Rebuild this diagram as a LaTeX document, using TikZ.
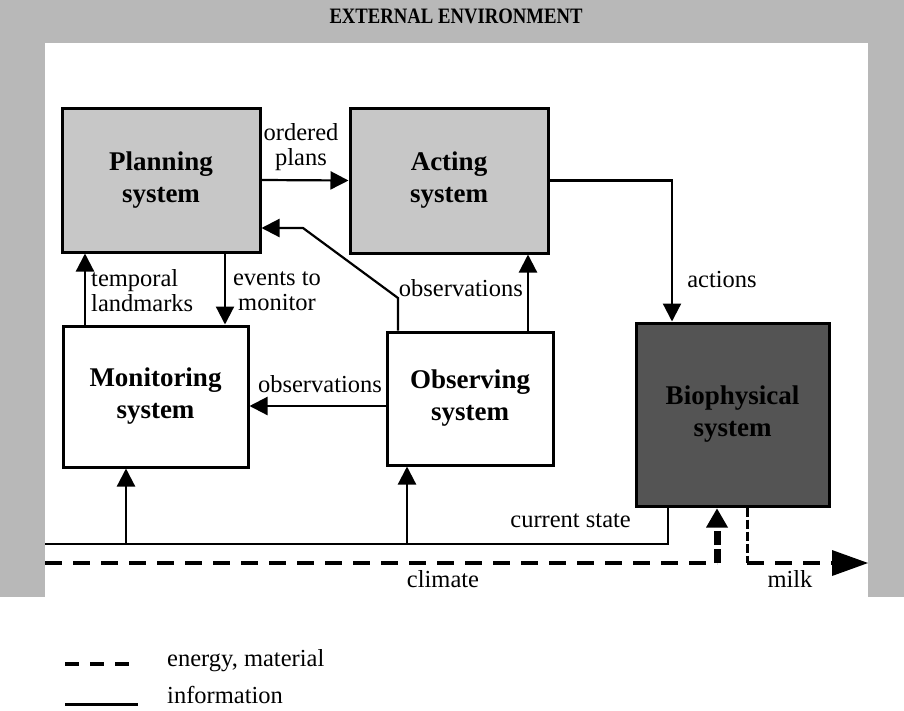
\documentclass[tikz,border=0pt]{standalone}
\usepackage{fontspec}
\setmainfont{Liberation Serif}
\usetikzlibrary{arrows.meta}
\definecolor{envgray}{gray}{0.72}
\definecolor{lightfill}{gray}{0.78}
\definecolor{darkfill}{gray}{0.33}
\begin{document}
\begin{tikzpicture}[x=1pt,y=-1pt,
  box/.style={draw=black, line width=3pt, align=center, inner sep=0pt,
    font=\fontsize{27}{32}\selectfont\bfseries},
  lbl/.style={font=\fontsize{24.5}{25}\selectfont, inner sep=0pt},
  info/.style={line width=2.2pt, -{Triangle[length=18pt,width=18pt]}},
  infoline/.style={line width=2.2pt},
  matter/.style={line width=4pt, line cap=butt, dash pattern=on 17pt off 11pt},
]
\useasboundingbox (0,0) rectangle (904,710);

% surrounding environment band
\fill[envgray] (0,0) rectangle (904,597);
\fill[white] (45,43) rectangle (868,597);
\node[font=\fontsize{22}{24}\selectfont\bfseries, inner sep=0pt, xscale=0.85] (envtitle) at (456,16) {EXTERNAL ENVIRONMENT};

% the five subsystems
\node[box, fill=lightfill, minimum width=198pt, minimum height=144pt] (plan) at (161,180) {Planning\\system};
\node[box, fill=lightfill, minimum width=198pt, minimum height=145pt] (act) at (449,180.5) {Acting\\system};
\node[box, fill=white, minimum width=185pt, minimum height=141pt] (mon) at (155.5,396.5) {Monitoring\\system};
\node[box, fill=white, minimum width=166pt, minimum height=133pt] (obs) at (470,398.5) {Observing\\system};
\node[box, fill=darkfill, minimum width=193pt, minimum height=183pt] (bio) at (732.5,414.5) {Biophysical\\system};

% helper coordinates for connector routing
\coordinate (xa) at (528,0);
\coordinate (k1) at (398,298);
\coordinate (k2) at (303,228);
\coordinate (xt) at (85,0);
\coordinate (xe) at (225,0);
\coordinate (yo) at (0,406);
\coordinate (xc) at (672,0);
\coordinate (xs) at (668,0);
\coordinate (cs) at (668,544);
\coordinate (infoleft) at (45,544);
\coordinate (xm) at (126,0);
\coordinate (xo) at (407,0);
\coordinate (climleft) at (45,563);
\coordinate (climturn) at (717,563);
\coordinate (milkturn) at (747,563);
\coordinate (milkend) at (868,563);

% information flows
\draw[info] (plan.east) -- (act.west);
\draw[info] (act.east) -| (bio.north -| xc);
\draw[info] (obs.north -| xa) -- (act.south -| xa);
\draw[info] (obs.north -| k1) -- (k1) -- (k2) -- (plan.east |- k2);
\draw[info] (mon.north -| xt) -- (plan.south -| xt);
\draw[info] (plan.south -| xe) -- (mon.north -| xe);
\draw[info] (obs.west |- yo) -- (mon.east |- yo);
\draw[infoline] (bio.south -| xs) -- (cs) -- (infoleft);
\draw[info] (infoleft -| xm) -- (mon.south -| xm);
\draw[info] (infoleft -| xo) -- (obs.south -| xo);

% energy and material flows
\draw[matter] (climleft) -- (climturn);
\draw[line width=7pt, line cap=butt, dash pattern=on 14pt off 4pt] (climturn) -- ([yshift=-16pt]bio.south -| climturn);
\fill ([yshift=-1pt]bio.south -| climturn) -- ++(-11,19) -- ++(22,0) -- cycle;
\draw[line width=3pt, line cap=butt, dash pattern=on 9pt off 3pt] (bio.south -| milkturn) -- (milkturn);
\draw[matter] (milkturn) -- ([xshift=-34pt]milkend);
\fill (milkend) -- ++(-36,-13) -- ++(0,26) -- cycle;

% flow labels
\node[lbl, align=center] (lordered) at (301,147) {ordered\\plans};
\node[lbl, align=left, anchor=west] (ltemporal) at (91,291) {temporal\\landmarks};
\node[lbl, align=center] (levents) at (277,291) {events to\\monitor};
\node[lbl, anchor=east] (lobsup) at (523,288) {observations};
\node[lbl] (lobsleft) at (320,384) {observations};
\node[lbl] (lactions) at (722,280) {actions};
\node[lbl, anchor=east] (lstate) at (631,521) {current state};
\node[lbl] (lclimate) at (443,579) {climate};
\node[lbl] (lmilk) at (790,579) {milk};

% legend
\coordinate (lega) at (65,664);
\coordinate (legb) at (138,664);
\coordinate (legc) at (65,704);
\coordinate (legd) at (138,704);
\draw[line width=4pt, line cap=butt, dash pattern=on 14pt off 11pt] (lega) -- (legb);
\draw[line width=3pt] (legc) -- (legd);
\node[lbl, anchor=west] (legmatter) at (167,661) {energy, material};
\node[lbl, anchor=west] (leginfo) at (167,695) {information};
\end{tikzpicture}
\end{document}
